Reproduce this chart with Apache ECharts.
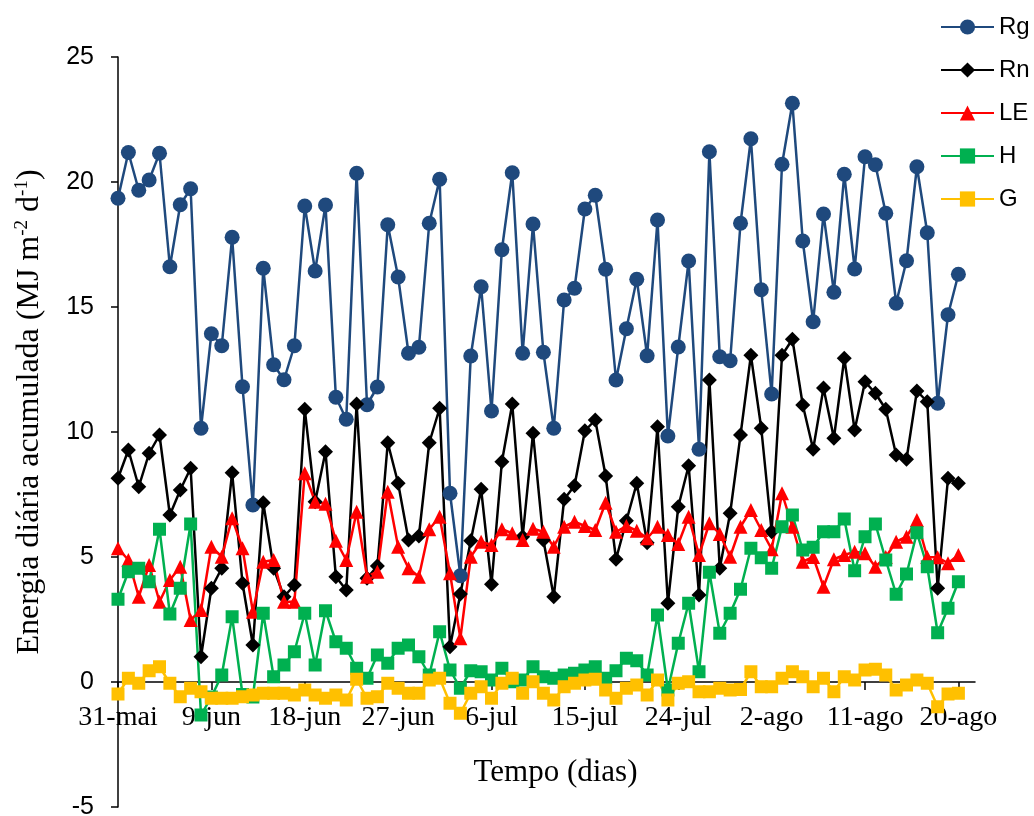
<!DOCTYPE html>
<html>
<head>
<meta charset="utf-8">
<script src="https://cdn.jsdelivr.net/npm/echarts@6/dist/echarts.min.js"></script>
<style>
  html, body { margin: 0; padding: 0; background: #fff; }
  #energyChart { width: 1034px; height: 816px; }
</style>
</head>
<body>
<div id="energyChart"></div>
<script>
  // rótulos do eixo x (um a cada 9 dias, dia 0 = 31-mai)
  var tickLabels = ['31-mai', '9-jun', '18-jun', '27-jun', '6-jul', '15-jul', '24-jul', '2-ago', '11-ago', '20-ago'];
  var tickStep = 9;

  // energia diária acumulada (MJ m-2 d-1), 31-mai a 20-ago
  var rg = [19.35, 21.18, 19.67, 20.08, 21.15, 16.61, 19.09, 19.73, 10.15, 13.93,
    13.45, 17.79, 11.81, 7.08, 16.55, 12.69, 12.09, 13.45, 19.04, 16.44,
    19.08, 11.39, 10.51, 20.35, 11.09, 11.8, 18.29, 16.2, 13.15, 13.39,
    18.35, 20.11, 7.55, 4.25, 13.04, 15.81, 10.84, 17.29, 20.37, 13.15,
    18.32, 13.19, 10.15, 15.28, 15.75, 18.92, 19.47, 16.51, 12.08, 14.13,
    16.11, 13.05, 18.48, 9.84, 13.4, 16.84, 9.31, 21.21, 13.01, 12.85,
    18.35, 21.73, 15.69, 11.52, 20.71, 23.15, 17.64, 14.41, 18.72, 15.59,
    20.31, 16.52, 21.01, 20.69, 18.75, 15.15, 16.85, 20.61, 17.97, 11.15,
    14.69, 16.31];
  var rn = [8.15, 9.28, 7.81, 9.15, 9.88, 6.68, 7.68, 8.55, 1.01, 3.75,
    4.55, 8.37, 3.95, 1.48, 7.17, 4.55, 3.41, 3.88, 10.91, 7.21,
    9.21, 4.21, 3.68, 11.12, 4.15, 4.64, 9.57, 7.95, 5.68, 5.84,
    9.57, 10.95, 1.41, 3.52, 5.65, 7.71, 3.91, 8.81, 11.12, 5.81,
    9.95, 5.68, 3.41, 7.31, 7.85, 10.05, 10.48, 8.24, 4.91, 6.45,
    7.95, 5.57, 10.21, 3.15, 7.01, 8.65, 3.48, 12.08, 4.55, 6.75,
    9.88, 13.07, 10.15, 6.01, 13.07, 13.71, 11.08, 9.31, 11.76, 9.75,
    12.95, 10.08, 12.01, 11.55, 10.91, 9.08, 8.91, 11.64, 11.21, 3.75,
    8.15, 7.95];
  var le = [5.35, 4.88, 3.41, 4.68, 3.21, 4.08, 4.61, 2.48, 2.88, 5.41,
    5.01, 6.55, 5.35, 2.81, 4.81, 4.88, 3.21, 3.21, 8.35, 7.21,
    7.13, 5.65, 4.88, 6.81, 4.21, 4.41, 7.61, 5.41, 4.55, 4.21,
    6.11, 6.61, 4.35, 1.75, 5.01, 5.61, 5.48, 6.11, 5.95, 5.68,
    6.13, 6.01, 5.41, 6.21, 6.41, 6.24, 6.08, 7.17, 6.01, 6.24,
    6.05, 5.75, 6.21, 5.88, 5.52, 6.61, 5.08, 6.35, 5.92, 5.01,
    6.21, 6.88, 6.08, 5.31, 7.55, 6.21, 4.81, 5.0, 3.81, 4.91,
    5.08, 5.21, 5.15, 4.61, 5.0, 5.61, 5.81, 6.48, 5.0, 4.99,
    4.75, 5.08];
  var h = [3.31, 4.41, 4.55, 4.01, 6.11, 2.72, 3.75, 6.32, -1.32, -0.6,
    0.28, 2.61, -0.5, -0.6, 2.75, 0.21, 0.68, 1.21, 2.75, 0.68,
    2.85, 1.61, 1.35, 0.55, 0.15, 1.08, 0.75, 1.35, 1.48, 1.01,
    0.28, 2.01, 0.48, -0.25, 0.45, 0.41, 0.08, 0.55, 0.01, 0.08,
    0.61, 0.21, 0.15, 0.28, 0.35, 0.48, 0.61, 0.15, 0.45, 0.95,
    0.85, 0.28, 2.68, -0.32, 1.55, 3.15, 0.41, 4.39, 1.95, 2.75,
    3.71, 5.35, 4.97, 4.55, 6.21, 6.68, 5.28, 5.39, 6.01, 6.01,
    6.52, 4.45, 5.81, 6.32, 4.88, 3.51, 4.32, 5.97, 4.61, 1.97,
    2.95, 4.01];
  var g = [-0.48, 0.15, -0.05, 0.45, 0.61, -0.05, -0.59, -0.25, -0.39, -0.65,
    -0.65, -0.65, -0.59, -0.52, -0.45, -0.45, -0.45, -0.52, -0.32, -0.52,
    -0.65, -0.52, -0.72, 0.11, -0.65, -0.59, -0.05, -0.25, -0.45, -0.45,
    0.08, 0.15, -0.85, -1.25, -0.45, -0.19, -0.65, -0.05, 0.15, -0.45,
    0.01, -0.45, -0.72, -0.19, -0.05, 0.08, 0.11, -0.32, -0.65, -0.25,
    -0.12, -0.52, 0.08, -0.72, -0.05, 0.01, -0.39, -0.39, -0.25, -0.32,
    -0.3, 0.41, -0.19, -0.19, 0.15, 0.41, 0.21, -0.19, 0.15, -0.39,
    0.21, 0.08, 0.48, 0.51, 0.28, -0.32, -0.12, 0.08, -0.05, -0.99,
    -0.48, -0.45];

  var tickValues = tickLabels.map(function (t, k) { return k * tickStep; });

  function pairs(arr) {
    return arr.map(function (v, i) { return [i, v]; });
  }

  function mkSeries(name, arr, color, symbol, size) {
    return {
      name: name,
      type: 'line',
      data: pairs(arr),
      symbol: symbol,
      symbolSize: size,
      showAllSymbol: true,
      lineStyle: { color: color, width: 2.5 },
      itemStyle: { color: color },
      emphasis: { disabled: true }
    };
  }

  var chart = echarts.init(document.getElementById('energyChart'));
  var option = {
    animation: false,
    backgroundColor: '#fff',
    grid: { left: 118, right: 59, top: 57, bottom: 9, containLabel: false, outerBoundsMode: 'none' },
    legend: {
      orient: 'vertical',
      left: 935,
      top: 10,
      itemWidth: 53,
      itemHeight: 19,
      itemGap: 19,
      textStyle: { fontFamily: 'Liberation Sans', fontSize: 24, color: '#000' },
      data: ['Rg', 'Rn', 'LE', 'H', 'G']
    },
    xAxis: {
      type: 'value',
      min: 0,
      max: 82.6,
      interval: tickStep,
      name: 'Tempo (dias)',
      nameLocation: 'middle',
      // o eixo fica no zero, mas o v6 posiciona rótulos e nome a partir da base do grid
      nameGap: -50,
      nameTextStyle: { fontFamily: 'Liberation Serif', fontSize: 31, color: '#000', padding: [0, 0, 0, 18] },
      axisLine: { onZero: true, lineStyle: { color: '#000', width: 1.5 } },
      axisTick: { show: true, length: 8, customValues: tickValues, lineStyle: { color: '#000', width: 1.5 } },
      axisLabel: {
        customValues: tickValues,
        margin: -103,
        fontFamily: 'Liberation Serif',
        fontSize: 28,
        color: '#000',
        formatter: function (v) { return tickLabels[Math.round(v / tickStep)]; }
      },
      splitLine: { show: false }
    },
    yAxis: {
      type: 'value',
      min: -5,
      max: 25,
      interval: 5,
      name: '{t|Energia diária acumulada (MJ m}{s|-2}{t| d}{s|-1}{t|)}',
      nameLocation: 'middle',
      nameRotate: 90,
      nameGap: 71,
      nameTextStyle: {
        padding: [0, 0, 0, 40],
        rich: {
          t: { fontFamily: 'Liberation Serif', fontSize: 32, color: '#000', lineHeight: 34 },
          s: { fontFamily: 'Liberation Serif', fontSize: 19, color: '#000', verticalAlign: 'top', lineHeight: 19 }
        }
      },
      axisLine: { show: true, onZero: false, lineStyle: { color: '#000', width: 1.5 } },
      axisTick: { show: true, length: 7, lineStyle: { color: '#000', width: 1.5 } },
      axisLabel: { margin: 24, fontFamily: 'Liberation Sans', fontSize: 25, color: '#000' },
      splitLine: { show: false }
    },
    series: [
      mkSeries('Rg', rg, '#1F497D', 'circle', 15),
      mkSeries('Rn', rn, '#000000', 'diamond', 15),
      mkSeries('LE', le, '#FF0000', 'triangle', 14),
      mkSeries('H', h, '#00B050', 'rect', 13),
      mkSeries('G', g, '#FFC000', 'rect', 13)
    ]
  };
  chart.setOption(option);
  window.addEventListener('resize', function () {
    chart.resize();
  });
</script>
</body>
</html>
